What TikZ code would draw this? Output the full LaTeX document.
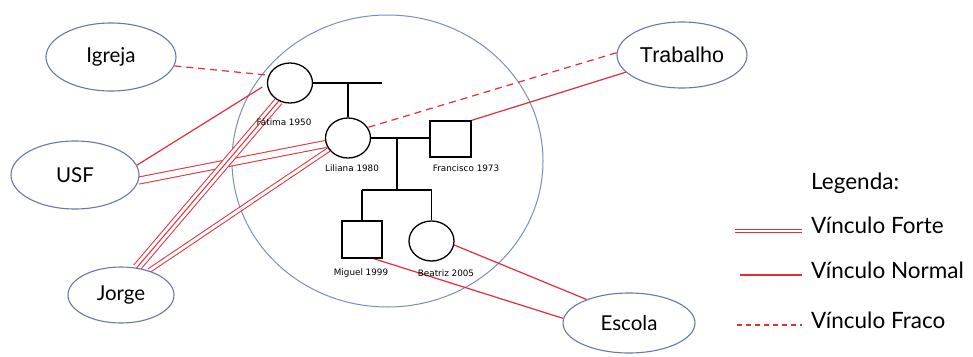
\documentclass[tikz,border=0pt]{standalone}
\usepackage{fontspec}
\usetikzlibrary{shapes.geometric,calc,backgrounds}
\newfontfamily\gillfont{Lato}
\newfontfamily\arialfont{Liberation Sans}
\newfontfamily\smallfont{DejaVu Sans}
\definecolor{ovalblue}{RGB}{105,120,170}
\definecolor{circblue}{RGB}{125,140,190}
\definecolor{linkred}{RGB}{228,45,55}
\begin{document}
\begin{tikzpicture}[x=1pt,y=-1pt,
  outer/.style={ellipse, draw=ovalblue, line width=1.1pt, fill=white, inner sep=0pt, font=\gillfont\fontsize{20.5}{24}\selectfont},
  fem/.style={ellipse, draw=black, line width=1.3pt, fill=white, minimum width=45pt, minimum height=40pt, inner sep=0pt},
  masc/.style={rectangle, draw=black, line width=1.3pt, fill=white, minimum width=41pt, minimum height=36pt, inner sep=0pt},
  persona/.style={font=\smallfont\fontsize{8.8}{10}\selectfont, inner sep=0pt},
  legtext/.style={font=\gillfont\fontsize{22.5}{26}\selectfont, inner sep=0pt, anchor=base west},
  kin/.style={draw=black, line width=1.3pt},
  linknormal/.style={draw=linkred, line width=1.2pt},
  linkweak/.style={draw=linkred, line width=1.2pt, dash pattern=on 7pt off 5pt},
  linkstrong/.style={draw=linkred, line width=1pt, double=white, double distance=#1},
  linkstrong/.default=2pt
]
\useasboundingbox (0,0) rectangle (973,356);

% outer systems
\node[outer, minimum width=130pt, minimum height=68pt] (igreja) at (111,57) {Igreja};
\node[outer, minimum width=128pt, minimum height=68pt] (usf) at (75,175) {USF};
\node[outer, minimum width=106pt, minimum height=56pt] (jorge) at (121,295) {Jorge};
\node[outer, minimum width=130pt, minimum height=66pt, font=\arialfont\fontsize{21.5}{24}\selectfont] (trabalho) at (682,55) {Trabalho};
\node[outer, minimum width=132pt, minimum height=60pt] (escola) at (629,323) {Escola};

% family
\node[fem] (fatima) at (290,83) {};
\node[fem] (liliana) at (348,138) {};
\node[masc] (francisco) at (450.5,139) {};
\node[masc, minimum width=40pt, minimum height=37pt] (miguel) at (362,239.5) {};
\node[fem] (beatriz) at (431.5,241) {};

\node[persona] (lfatima) at (284,122) {Fátima 1950};
\node[persona] (lliliana) at (352,168) {Liliana 1980};
\node[persona] (lfrancisco) at (466,168) {Francisco 1973};
\node[persona] (lmiguel) at (361,273) {Miguel 1999};
\node[persona] (lbeatriz) at (446,273) {Beatriz 2005};

\coordinate (c1) at (382,83);
\coordinate (c2) at (348,83);
\coordinate (c3) at (397,138);
\coordinate (c4) at (397,190);
\coordinate (c5) at (362,190);
\coordinate (c6) at (431.5,190);

\draw[kin] (fatima.east) -- (c1);
\draw[kin] (c2) -- (liliana.north);
\draw[kin] (liliana.east) -- (liliana.east -| francisco.west);
\draw[kin] (c3) -- (c4);
\draw[kin] (c5) -- (c6);
\draw[kin] (c5) -- (miguel.north);
\draw[kin] (c6) -- (beatriz.north);

\begin{pgfonlayer}{background}
\fill[white] (0,0) rectangle (973,356);
\node[ellipse, draw=circblue, line width=1pt, minimum width=311pt, minimum height=292pt, inner sep=0pt] (familia) at (387.5,161) {};
% links
\draw[linkweak] (igreja.-8) -- (fatima.160);
\draw[linknormal] (usf.9) -- ([xshift=-5pt]fatima.190);
\draw[linkstrong=6pt] (usf.-5) -- (liliana.195);
\draw[linkstrong=7pt] (jorge.60) -- (fatima.238);
\draw[linknormal, line width=1pt] (jorge.60) -- (fatima.238);
\draw[linkstrong=3pt] (jorge.41) -- (liliana.211);
\draw[linkweak] (trabalho.178) -- (liliana.28);
\draw[linknormal] (trabalho.197) -- (francisco.north east);
\draw[linknormal] (beatriz.-10) -- (escola.151);
\draw[linknormal] ([xshift=-9pt]miguel.south east) -- (escola.176);
\end{pgfonlayer}

% legend
\node[legtext] (legenda) at (811,189) {Legenda:};
\coordinate (lf1) at (735,231);
\coordinate (lf2) at (802,231);
\coordinate (ln1) at (740,275);
\coordinate (ln2) at (802,275);
\coordinate (lw1) at (737,325);
\coordinate (lw2) at (802,325);
\draw[linkstrong=1.3pt, line width=1.3pt] (lf1) -- (lf2);
\draw[linknormal, line width=1.4pt] (ln1) -- (ln2);
\draw[linkweak, line width=1.3pt, dash pattern=on 5pt off 4pt] (lw1) -- (lw2);
\node[legtext] (tforte) at (811,233) {Vínculo Forte};
\node[legtext] (tnormal) at (811,278) {Vínculo Normal};
\node[legtext] (tfraco) at (811,328) {Vínculo Fraco};
\end{tikzpicture}
\end{document}
